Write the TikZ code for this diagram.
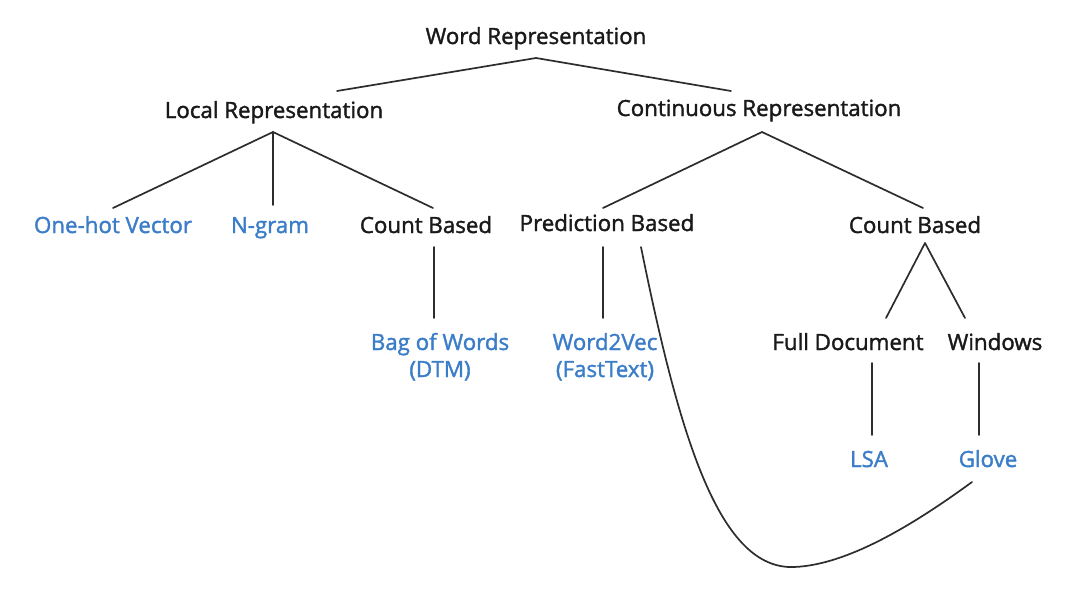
\documentclass[tikz,border=0pt]{standalone}
\usepackage{fontspec}
\setmainfont{Open Sans}[FakeBold=1.6]
\usetikzlibrary{calc}
\definecolor{txtblack}{RGB}{25,25,25}
\definecolor{txtblue}{RGB}{59,125,200}
\definecolor{linegray}{RGB}{45,45,45}
\tikzset{
  lbl/.style={anchor=base, inner sep=0pt, align=center, font=\fontsize{22.3}{27}\selectfont, text=txtblack},
  leaf/.style={lbl, text=txtblue},
  conn/.style={draw=linegray, line width=1.7pt, line cap=round},
}
\begin{document}
\begin{tikzpicture}[x=1pt,y=-1pt]
\useasboundingbox[fill=white] (0,0) rectangle (1074,600);
% nodes (placed on baselines of their last line)
\node[lbl]  (wr)  at (536,44)  {Word Representation};
\node[lbl]  (lr)  at (274,118) {Local Representation};
\node[lbl]  (cr)  at (759,116) {Continuous Representation};
\node[leaf] (ohv) at (113,233) {One-hot Vector};
\node[leaf] (ng)  at (270,233) {N-gram};
\node[lbl]  (cb1) at (426,233) {Count Based};
\node[lbl]  (pb)  at (607,231) {Prediction Based};
\node[lbl]  (cb2) at (915,233) {Count Based};
\node[leaf] (bow) at (440,377) {Bag of Words\\(DTM)};
\node[leaf] (w2v) at (605,377) {Word2Vec\\(FastText)};
\node[lbl]  (fd)  at (848,350) {Full Document};
\node[lbl]  (win) at (995,350) {Windows};
\node[leaf] (lsa) at (869,467) {LSA};
\node[leaf] (glv) at (988,467) {Glove};
% connectors
\draw[conn] ($(wr.base)+(0,14)$) -- ($(lr.base)+(63,-27)$);
\draw[conn] ($(wr.base)+(0,14)$) -- ($(cr.base)+(-28,-25)$);
\draw[conn] ($(lr.base)+(-1,14)$) -- ($(ohv.base)+(0,-25)$);
\draw[conn] ($(lr.base)+(-1,14)$) -- ($(ng.base)+(3,-28)$);
\draw[conn] ($(lr.base)+(-1,14)$) -- ($(cb1.base)+(7,-25)$);
\draw[conn] ($(cr.base)+(3,16)$) -- ($(pb.base)+(-4,-23)$);
\draw[conn] ($(cr.base)+(3,16)$) -- ($(cb2.base)+(8,-25)$);
\draw[conn] ($(cb1.base)+(8,14)$) -- ($(bow.base)+(-6,-59)$);
\draw[conn] ($(pb.base)+(-4,16)$) -- ($(w2v.base)+(-2,-59)$);
\draw[conn] ($(cb2.base)+(10,10)$) -- ($(fd.base)+(38,-32)$);
\draw[conn] ($(cb2.base)+(10,10)$) -- ($(win.base)+(-30,-32)$);
\draw[conn] ($(fd.base)+(24,13)$) -- ($(lsa.base)+(3,-32)$);
\draw[conn] ($(win.base)+(-16,13)$) -- ($(glv.base)+(-9,-32)$);
\draw[conn] ($(pb.base)+(34,16)$) .. controls (680,440) and (720,570) .. (794,567)
  .. controls (850,565) and (920,520) .. ($(glv.base)+(-16,15)$);
\end{tikzpicture}
\end{document}
